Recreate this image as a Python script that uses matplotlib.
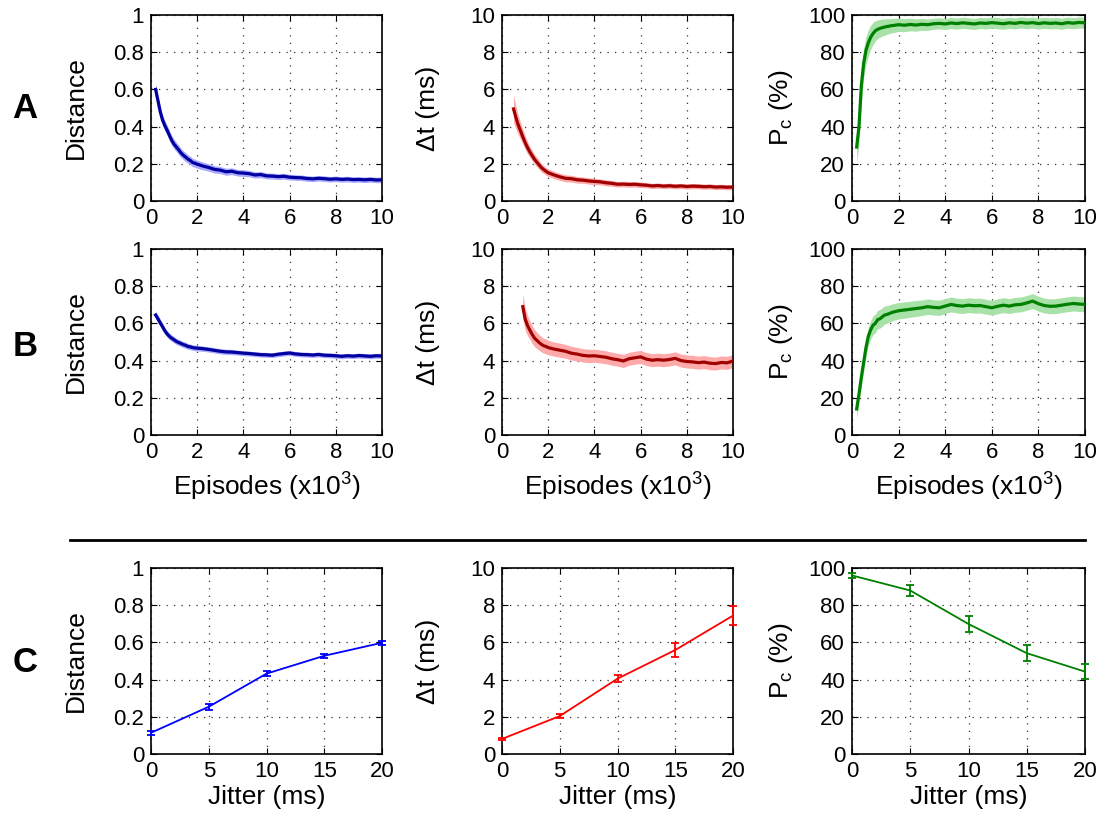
import numpy as np
import matplotlib
matplotlib.use('Agg')
import matplotlib.pyplot as plt
from matplotlib.lines import Line2D

plt.rcParams['font.family'] = ['Liberation Sans', 'DejaVu Sans']
plt.rcParams['mathtext.fontset'] = 'custom'
plt.rcParams['mathtext.rm'] = 'Liberation Sans'
plt.rcParams['mathtext.it'] = 'Liberation Sans:italic'

# Episode grids (x10^3): dense at the start, coarser later.
EP_LATE = [2.25, 2.5, 2.75, 3.0, 3.25, 3.5, 3.75, 4.0, 4.25, 4.5, 4.75, 5.0,
           5.25, 5.5, 5.75, 6.0, 6.25, 6.5, 6.75, 7.0, 7.25, 7.5, 7.75, 8.0,
           8.25, 8.5, 8.75, 9.0, 9.25, 9.5, 9.75, 10.0]
EP_FROM02 = [0.2, 0.3, 0.4, 0.5, 0.6, 0.7, 0.8, 0.9, 1.0, 1.1, 1.2, 1.3, 1.4,
             1.5, 1.6, 1.7, 1.8, 1.9, 2.0] + EP_LATE
EP_FROM05 = [0.5, 0.6, 0.7, 0.8, 0.9, 1.0, 1.1, 1.2, 1.3, 1.4,
             1.5, 1.6, 1.7, 1.8, 1.9, 2.0] + EP_LATE
EP_FROM09 = [0.9, 1.0, 1.1, 1.2, 1.3, 1.4, 1.5, 1.6, 1.7, 1.8, 1.9, 2.0] + EP_LATE

# Row A
distA = [0.600, 0.540, 0.480, 0.435, 0.405, 0.380, 0.352, 0.325, 0.305, 0.290,
         0.275, 0.258, 0.246, 0.236, 0.225, 0.218, 0.207, 0.203, 0.198,
         0.188, 0.180, 0.170, 0.166, 0.157, 0.160, 0.152, 0.150, 0.147, 0.140,
         0.142, 0.135, 0.134, 0.131, 0.133, 0.128, 0.126, 0.125, 0.121, 0.119,
         0.122, 0.120, 0.117, 0.119, 0.116, 0.118, 0.115, 0.116, 0.114, 0.116,
         0.113, 0.114]
distA_sd = [0.030, 0.030, 0.029, 0.028, 0.028, 0.027, 0.027, 0.026, 0.026, 0.025,
            0.025, 0.024, 0.024, 0.024, 0.023, 0.023, 0.022, 0.022, 0.022,
            0.021, 0.020, 0.020, 0.019, 0.019, 0.018, 0.018, 0.018, 0.017, 0.017,
            0.017, 0.016, 0.016, 0.016, 0.016, 0.015, 0.015, 0.015, 0.015, 0.015,
            0.015, 0.015, 0.015, 0.015, 0.015, 0.015, 0.015, 0.015, 0.015, 0.015,
            0.015, 0.015]
dtA = [4.95, 4.50, 4.10, 3.78, 3.45, 3.15, 2.88, 2.65, 2.45, 2.26, 2.10, 1.95,
       1.80, 1.70, 1.60, 1.52,
       1.40, 1.30, 1.22, 1.20, 1.14, 1.12, 1.08, 1.05, 1.03, 0.98, 0.95, 0.90,
       0.91, 0.89, 0.90, 0.87, 0.85, 0.81, 0.83, 0.80, 0.82, 0.79, 0.81, 0.78,
       0.80, 0.79, 0.77, 0.78, 0.75, 0.76, 0.74, 0.75]
dtA_sd = [0.75, 0.62, 0.52, 0.45, 0.40, 0.36, 0.33, 0.30, 0.28, 0.26, 0.25, 0.24,
          0.23, 0.22, 0.21, 0.20,
          0.20, 0.19, 0.19, 0.18, 0.18, 0.17, 0.17, 0.17, 0.16, 0.16, 0.16, 0.15,
          0.15, 0.15, 0.15, 0.15, 0.14, 0.14, 0.14, 0.14, 0.14, 0.14, 0.14, 0.14,
          0.14, 0.14, 0.14, 0.14, 0.14, 0.14, 0.14, 0.14]
pcA = [29, 40, 62, 74, 81, 85, 88, 90, 91.5, 92.3, 92.8, 93.2, 93.5, 93.8, 94.0,
       94.3, 94.4, 94.6, 94.8,
       94.5, 94.9, 94.6, 95.0, 94.8, 95.3, 95.5, 95.2, 95.7, 95.4, 95.8, 95.5,
       95.2, 95.7, 95.5, 95.9, 95.6, 95.3, 95.8, 95.5, 96.0, 95.6, 95.9, 95.4,
       95.8, 95.5, 95.7, 95.3, 95.9, 95.6, 96.0, 95.8]
pcA_sd = [9, 9, 9, 8, 7.5, 7, 6.5, 6, 5.5, 5, 4.8, 4.6, 4.4, 4.2, 4.0, 3.9, 3.8,
          3.7, 3.6,
          3.5, 3.4, 3.3, 3.2, 3.1, 3.0, 3.0, 3.0, 3.0, 3.0, 3.0, 3.0, 3.0, 3.0,
          3.0, 3.0, 3.0, 3.0, 3.0, 3.0, 3.0, 3.0, 3.0, 3.0, 3.0, 3.0, 3.0, 3.0,
          3.0, 3.0, 3.0, 3.0]

# Row B
distB = [0.645, 0.625, 0.603, 0.582, 0.560, 0.543, 0.530, 0.520, 0.512, 0.503,
         0.497, 0.492, 0.486, 0.482, 0.476, 0.474, 0.470, 0.468, 0.467,
         0.464, 0.460, 0.455, 0.450, 0.447, 0.446, 0.443, 0.440, 0.438, 0.435,
         0.432, 0.431, 0.429, 0.434, 0.438, 0.441, 0.436, 0.433, 0.432, 0.430,
         0.433, 0.429, 0.428, 0.426, 0.423, 0.426, 0.424, 0.427, 0.425, 0.423,
         0.426, 0.425]
distB_sd = [0.020, 0.020, 0.019, 0.019, 0.018, 0.018, 0.018, 0.017, 0.017, 0.017,
            0.016, 0.016, 0.016, 0.016, 0.015, 0.015, 0.015, 0.015, 0.015,
            0.014, 0.014, 0.014, 0.014, 0.014, 0.014, 0.013, 0.013, 0.013, 0.013,
            0.013, 0.013, 0.013, 0.013, 0.013, 0.013, 0.013, 0.013, 0.013, 0.013,
            0.013, 0.013, 0.013, 0.013, 0.013, 0.013, 0.013, 0.013, 0.013, 0.013,
            0.013, 0.013]
dtB = [6.90, 6.25, 5.90, 5.65, 5.42, 5.22, 5.10, 4.98, 4.88, 4.80, 4.76, 4.70,
       4.62, 4.56, 4.50, 4.40, 4.35, 4.28, 4.25, 4.26, 4.22, 4.18, 4.10, 4.05,
       3.98, 4.10, 4.15, 4.20, 4.08, 4.02, 4.05, 4.02, 4.06, 4.12, 4.00, 3.95,
       3.93, 3.89, 3.92, 3.86, 3.84, 3.90, 3.88, 3.98]
dtB_sd = [0.70, 0.60, 0.55, 0.50, 0.48, 0.46, 0.44, 0.42, 0.41, 0.40, 0.40, 0.39,
          0.38, 0.38, 0.37, 0.37, 0.36, 0.36, 0.36, 0.35, 0.35, 0.35, 0.35, 0.35,
          0.35, 0.35, 0.35, 0.35, 0.35, 0.35, 0.35, 0.35, 0.35, 0.35, 0.35, 0.35,
          0.35, 0.35, 0.35, 0.35, 0.35, 0.35, 0.35, 0.35]
pcB = [14, 22, 31, 39, 47, 53, 56.5, 59, 60, 62, 62.5, 63.5, 64.5, 64.8, 65.3,
       65.8, 66.2, 66.5, 66.8,
       67.2, 67.6, 68.0, 68.4, 69.0, 68.6, 68.4, 69.3, 70.2, 69.6, 69.3, 69.8,
       69.5, 69.6, 69.0, 68.4, 69.2, 69.8, 69.3, 70.0, 70.2, 71.0, 72.0, 70.6,
       69.6, 69.2, 69.3, 69.8, 70.3, 70.7, 70.4, 70.2]
pcB_sd = [5, 5, 5, 5, 5, 5, 5, 5, 5, 5, 5, 5, 4.8, 4.8, 4.6, 4.6, 4.5, 4.5, 4.4,
          4.4, 4.3, 4.3, 4.2, 4.2, 4.1, 4.1, 4.0, 4.0, 4.0, 4.0, 4.0, 4.0, 4.0,
          4.0, 4.0, 4.0, 4.0, 4.0, 4.0, 4.0, 4.0, 4.0, 4.0, 4.0, 4.0, 4.0, 4.0,
          4.0, 4.0, 4.0, 4.0]

# Row C: dependence on jitter
jitter = [0, 5, 10, 15, 20]
distC = [0.114, 0.254, 0.432, 0.528, 0.598]
distC_err = [0.010, 0.015, 0.015, 0.012, 0.012]
dtC = [0.81, 2.04, 4.05, 5.59, 7.44]
dtC_err = [0.05, 0.12, 0.20, 0.38, 0.53]
pcC = [96.0, 87.9, 69.9, 54.2, 44.3]
pcC_err = [1.5, 2.8, 4.5, 4.3, 4.2]

YLAB = ['Distance', '\u0394t (ms)', r'P$_{\mathregular{c}}$ (%)']
YMAX = [1, 10, 100]
YTICKS = [[0, 0.2, 0.4, 0.6, 0.8, 1], [0, 2, 4, 6, 8, 10],
          [0, 20, 40, 60, 80, 100]]
YTICKLAB = [['0', '0.2', '0.4', '0.6', '0.8', '1'],
            ['0', '2', '4', '6', '8', '10'],
            ['0', '20', '40', '60', '80', '100']]

W, H = 1102, 823
fig = plt.figure(figsize=(W / 100, H / 100), dpi=100)

colLeft = [151, 502, 852]
colWidth = [231, 231, 233]
rowTop = [15, 249, 568]
rowHeight = 186
labelX = [-0.275, -0.27, -0.245]
fs = 16     # tick labels
lfs = 19    # axis labels


def makeAx(r, c):
    ax = fig.add_axes([colLeft[c] / W, 1 - (rowTop[r] + rowHeight) / H,
                       colWidth[c] / W, rowHeight / H])
    ax.set_ylim(0, YMAX[c])
    ax.set_yticks(YTICKS[c])
    ax.set_yticklabels(YTICKLAB[c])
    ax.grid(True, color='0.2', linestyle=(0, (1, 5)), linewidth=0.9)
    ax.tick_params(direction='in', length=4, top=True, right=True,
                   labelsize=fs, pad=5)
    for s in ax.spines.values():
        s.set_linewidth(1.2)
    ax.set_ylabel(YLAB[c], fontsize=lfs)
    ax.yaxis.set_label_coords(labelX[c], 0.5)
    return ax


rowsAB = [
    [(EP_FROM02, distA, distA_sd), (EP_FROM05, dtA, dtA_sd), (EP_FROM02, pcA, pcA_sd)],
    [(EP_FROM02, distB, distB_sd), (EP_FROM09, dtB, dtB_sd), (EP_FROM02, pcB, pcB_sd)],
]
lineCol = ['#0000a0', '#a00000', '#008000']
bandCol = ['#aaaaff', '#ffaaaa', '#a8e2a8']

for r in range(2):
    for c in range(3):
        ax = makeAx(r, c)
        x, m, sd = rowsAB[r][c]
        x = np.array(x)
        m = np.array(m, dtype=float)
        sd = np.array(sd, dtype=float)
        ax.fill_between(x, m - sd, np.minimum(m + sd, YMAX[c]),
                        color=bandCol[c], linewidth=0, zorder=2)
        ax.plot(x, m, color=lineCol[c], linewidth=2.3, zorder=3)
        ax.set_xlim(0, 10)
        ax.set_xticks([0, 2, 4, 6, 8, 10])
        if r == 1:
            ax.set_xlabel(r'Episodes (x10$^{\mathregular{3}}$)', fontsize=lfs,
                          labelpad=6)

rowC = [(distC, distC_err, '#0000ff'), (dtC, dtC_err, '#ff0000'),
        (pcC, pcC_err, '#008000')]
for c in range(3):
    ax = makeAx(2, c)
    y, e, col = rowC[c]
    ax.errorbar(jitter, y, yerr=e, color=col, linewidth=1.3, capsize=3,
                elinewidth=1.3, capthick=1.3, zorder=3, clip_on=False)
    ax.set_xlim(0, 20)
    ax.set_xticks([0, 5, 10, 15, 20])
    ax.set_xlabel('Jitter (ms)', fontsize=lfs, labelpad=2)

# Panel letters
for lab, yc in zip(['A', 'B', 'C'], [108, 347, 663]):
    fig.text(25 / W, 1 - yc / H, lab, fontsize=25, fontweight='bold',
             ha='center', va='center')

# Separator between the learning curves and the jitter panels
fig.add_artist(Line2D([70 / W, 1085 / W], [1 - 540 / H, 1 - 540 / H],
                      color='black', linewidth=2))

fig.savefig('out.png', dpi=100)
